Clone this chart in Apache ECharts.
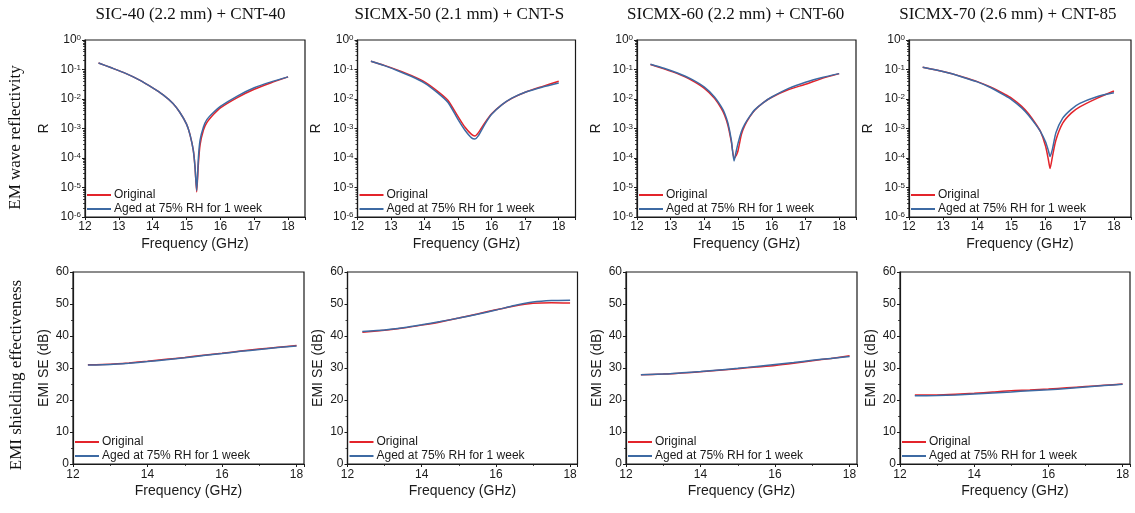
<!DOCTYPE html>
<html><head><meta charset="utf-8">
<script src="https://cdn.jsdelivr.net/npm/echarts@6/dist/echarts.min.js"></script>
<style>html,body{margin:0;padding:0;background:#fff}#c{width:1135px;height:513px}</style>
</head><body><div id="c"></div>
<script>
// ---------------- DATA ----------------
const panelTitles = ['SIC-40 (2.2 mm) + CNT-40', 'SICMX-50 (2.1 mm) + CNT-S', 'SICMX-60 (2.2 mm) + CNT-60', 'SICMX-70 (2.6 mm) + CNT-85'];
const rowLabels = ['EM wave reflectivity', 'EMI shielding effectiveness'];
const seriesNames = ['Original', 'Aged at 75% RH for 1 week'];
const xAxisName = 'Frequency (GHz)';
const yNameTop = 'R';
const yNameBottom = 'EMI SE (dB)';

// Reflectivity panels
const freqR1 = [12.4,12.8,13.2,13.6,14.0,14.3,14.6,14.8,15.0,15.1,15.2,15.25,15.3,15.35,15.4,15.5,15.6,15.8,16.0,16.5,17.0,17.5,18.0];
const rOrig1 = [0.166,0.112,0.0741,0.0447,0.0240,0.0141,0.00708,0.00355,0.00141,6.3e-4,1.8e-4,5.0e-5,7.1e-6,6.3e-5,2.8e-4,8.9e-4,1.58e-3,3.02e-3,5.01e-3,0.0112,0.0214,0.0355,0.0562];
const rAged1 = [0.166,0.112,0.0741,0.0447,0.0240,0.0141,0.00708,0.00355,0.00141,6.3e-4,1.8e-4,5.0e-5,7.9e-6,1.0e-4,4.0e-4,1.12e-3,2.0e-3,3.55e-3,5.62e-3,0.0126,0.0240,0.0380,0.0562];

const freqR2 = [12.4,12.8,13.2,13.6,14.0,14.4,14.7,15.0,15.2,15.4,15.5,15.6,15.8,16.0,16.3,16.6,17.0,17.5,18.0];
const rOrig2 = [0.191,0.138,0.0955,0.0631,0.0380,0.0178,0.00891,0.00251,0.00112,6.3e-4,5.6e-4,7.1e-4,1.58e-3,3.16e-3,6.31e-3,0.0105,0.0170,0.0263,0.0398];
const rAged2 = [0.191,0.135,0.0912,0.0589,0.0347,0.0158,0.00759,0.00200,8.9e-4,4.8e-4,4.4e-4,5.6e-4,1.41e-3,3.02e-3,6.31e-3,0.0107,0.0170,0.0251,0.0347];

const freqR3 = [12.4,12.8,13.2,13.6,14.0,14.3,14.5,14.6,14.7,14.8,14.88,14.95,15.0,15.1,15.2,15.35,15.5,15.75,16.0,16.5,17.0,17.5,18.0];
const rOrig3 = [0.148,0.105,0.0724,0.0447,0.0229,0.0105,0.00479,0.00282,0.00126,3.5e-4,1.0e-4,1.26e-4,1.8e-4,6.3e-4,1.26e-3,2.51e-3,4.27e-3,7.59e-3,0.0115,0.0209,0.0316,0.0501,0.0724];
const rAged3 = [0.151,0.110,0.0759,0.0479,0.0251,0.0117,0.00550,0.00331,0.00151,4.0e-4,7.9e-5,1.8e-4,3.2e-4,7.9e-4,1.41e-3,2.63e-3,4.37e-3,7.59e-3,0.0117,0.0229,0.0372,0.0537,0.0724];

const freqR4 = [12.4,12.8,13.2,13.6,14.0,14.4,14.8,15.0,15.3,15.5,15.7,15.85,16.0,16.08,16.13,16.2,16.3,16.5,16.75,17.0,17.5,18.0];
const rOrig4 = [0.120,0.0955,0.0741,0.0550,0.0389,0.0251,0.0145,0.0107,0.00562,0.00316,0.00151,7.9e-4,2.5e-4,8.9e-5,4.4e-5,1.12e-4,4.0e-4,1.51e-3,3.31e-3,5.37e-3,0.0105,0.0186];
const rAged4 = [0.120,0.0955,0.0741,0.0537,0.0380,0.0240,0.0132,0.00955,0.00501,0.00282,0.00141,7.9e-4,3.5e-4,1.8e-4,1.12e-4,2.0e-4,7.1e-4,2.24e-3,4.47e-3,7.08e-3,0.0120,0.0162];

// Shielding effectiveness panels
const freqSE = [12.4,13.0,13.5,14.0,14.5,15.0,15.5,16.0,16.5,17.0,17.5,18.0];
const seOrig1 = [31.0,31.2,31.6,32.1,32.7,33.3,34.0,34.6,35.3,35.9,36.5,37.0];
const seAged1 = [30.9,31.1,31.5,32.0,32.6,33.2,33.9,34.5,35.2,35.8,36.4,36.9];
const seOrig2 = [41.2,41.8,42.5,43.4,44.4,45.6,46.9,48.2,49.4,50.2,50.4,50.3];
const seAged2 = [41.4,41.9,42.6,43.5,44.5,45.6,46.8,48.1,49.5,50.6,51.1,51.2];
const seOrig3 = [27.9,28.1,28.4,28.8,29.3,29.8,30.3,30.8,31.5,32.3,33.0,33.8];
const seAged3 = [27.9,28.1,28.5,28.9,29.4,29.9,30.5,31.1,31.7,32.4,33.0,33.6];
const seOrig4 = [21.6,21.6,21.8,22.1,22.5,22.9,23.1,23.4,23.8,24.2,24.6,25.0];
const seAged4 = [21.3,21.4,21.6,21.9,22.2,22.5,22.9,23.2,23.6,24.1,24.5,24.9];

// ---------------- LAYOUT / STYLE ----------------
const RED = '#e3242b', BLUE = '#3d6aa3', INK = '#1a1a1a';
const SANS = '"Liberation Sans", Arial, sans-serif';
const SERIF = '"Liberation Serif", "Times New Roman", serif';
const topGrids = [[85,220],[357.5,218],[637,219],[909,222]];
const botGrids = [[73,231],[347.5,230],[626,231],[900,230]];
const titleX = [190.5, 459.3, 735.7, 1007.8];

const rFreqs = [freqR1, freqR2, freqR3, freqR4];
const rOrigs = [rOrig1, rOrig2, rOrig3, rOrig4];
const rAgeds = [rAged1, rAged2, rAged3, rAged4];
const seOrigs = [seOrig1, seOrig2, seOrig3, seOrig4];
const seAgeds = [seAged1, seAged2, seAged3, seAged4];

function pairs(xs, ys) { return xs.map((x, i) => [x, ys[i]]); }

const grids = [], xAxes = [], yAxes = [], series = [], legends = [], graphics = [];
const lineAxis = { show: true, onZero: false, lineStyle: { color: INK, width: 1.2 } };
const tickStyle = { color: INK, width: 1 };

function addSeries(g, xs, orig, aged) {
  series.push({ name: seriesNames[0], type: 'line', xAxisIndex: g, yAxisIndex: g, data: pairs(xs, orig),
    symbol: 'none', smooth: 0.2, lineStyle: { color: RED, width: 1.5 }, itemStyle: { color: RED }, z: 2 });
  series.push({ name: seriesNames[1], type: 'line', xAxisIndex: g, yAxisIndex: g, data: pairs(xs, aged),
    symbol: 'none', smooth: 0.2, lineStyle: { color: BLUE, width: 1.5 }, itemStyle: { color: BLUE }, z: 3 });
}
function addLegend(left, top) {
  legends.push({ left: left, top: top, orient: 'vertical', icon: 'rect', itemWidth: 24, itemHeight: 2, itemGap: 0,
    padding: 0, selectedMode: false, data: seriesNames,
    textStyle: { fontFamily: SANS, fontSize: 12, color: INK, lineHeight: 14, padding: [0, 0, 0, -2] } });
}

// top row: grid indices 0..3
for (let i = 0; i < 4; i++) {
  const g = i;
  grids.push({ left: topGrids[i][0], top: 40, width: topGrids[i][1], height: 177, show: true,
    borderColor: INK, borderWidth: 1.2, backgroundColor: 'transparent' });
  xAxes.push({ type: 'value', gridIndex: g, min: 12, max: 18.5, interval: 1,
    name: xAxisName, nameLocation: 'middle', nameGap: 20,
    nameTextStyle: { fontFamily: SANS, fontSize: 14, color: INK },
    axisLine: lineAxis, axisTick: { show: true, length: 3, lineStyle: tickStyle },
    axisLabel: { formatter: v => Number.isInteger(v) ? String(v) : '', fontSize: 12, color: INK, fontFamily: SANS, margin: 4 },
    splitLine: { show: false } });
  yAxes.push({ type: 'log', gridIndex: g, logBase: 10, min: 1e-6, max: 1, interval: 1, splitNumber: 6,
    name: yNameTop, nameLocation: 'middle', nameGap: 34,
    nameTextStyle: { fontFamily: SANS, fontSize: 14, color: INK },
    axisLine: lineAxis, axisTick: { show: true, length: 3, lineStyle: tickStyle },
    minorTick: { show: true, splitNumber: 9, length: 2, lineStyle: { color: INK, width: 0.8 } },
    axisLabel: {
      formatter: v => '{b|10}{s|' + Math.round(Math.log10(v)) + '}',
      margin: 4,
      rich: { b: { fontSize: 12, color: INK, fontFamily: SANS }, s: { fontSize: 8, color: INK, fontFamily: SANS, verticalAlign: 'top' } }
    },
    splitLine: { show: false } });
  addSeries(g, rFreqs[i], rOrigs[i], rAgeds[i]);
  addLegend(topGrids[i][0] + 2, 188);
  graphics.push({ type: 'text', x: titleX[i], y: 15,
    style: { text: panelTitles[i], font: '17px ' + SERIF, fill: '#111', textAlign: 'center', textVerticalAlign: 'middle' } });
}
// bottom row: grid indices 4..7
for (let i = 0; i < 4; i++) {
  const h = i + 4;
  grids.push({ left: botGrids[i][0], top: 272, width: botGrids[i][1], height: 192, show: true,
    borderColor: INK, borderWidth: 1.2, backgroundColor: 'transparent' });
  xAxes.push({ type: 'value', gridIndex: h, min: 12, max: 18.2, interval: 2,
    name: xAxisName, nameLocation: 'middle', nameGap: 20,
    nameTextStyle: { fontFamily: SANS, fontSize: 14, color: INK },
    axisLine: lineAxis, axisTick: { show: true, length: 3, lineStyle: tickStyle },
    minorTick: { show: true, splitNumber: 2, length: 2, lineStyle: { color: INK, width: 0.8 } },
    axisLabel: { formatter: v => Number.isInteger(v) ? String(v) : '', fontSize: 12, color: INK, fontFamily: SANS, margin: 5 },
    splitLine: { show: false } });
  yAxes.push({ type: 'value', gridIndex: h, min: 0, max: 60, interval: 10,
    name: yNameBottom, nameLocation: 'middle', nameGap: 22,
    nameTextStyle: { fontFamily: SANS, fontSize: 14, color: INK },
    axisLine: lineAxis, axisTick: { show: true, length: 3, lineStyle: tickStyle },
    minorTick: { show: true, splitNumber: 2, length: 2, lineStyle: { color: INK, width: 0.8 } },
    axisLabel: { fontSize: 12, color: INK, fontFamily: SANS, margin: 4 },
    splitLine: { show: false } });
  addSeries(h, freqSE, seOrigs[i], seAgeds[i]);
  addLegend(botGrids[i][0] + 2, 435);
}
graphics.push({ type: 'text', x: 16, y: 137.5, rotation: Math.PI / 2,
  style: { text: rowLabels[0], font: '17px ' + SERIF, fill: '#111', textAlign: 'center', textVerticalAlign: 'middle' } });
graphics.push({ type: 'text', x: 17, y: 375, rotation: Math.PI / 2,
  style: { text: rowLabels[1], font: '17px ' + SERIF, fill: '#111', textAlign: 'center', textVerticalAlign: 'middle' } });

const chart = echarts.init(document.getElementById('c'), null, { renderer: 'canvas' });
chart.setOption({
  backgroundColor: '#ffffff',
  animation: false,
  grid: grids, xAxis: xAxes, yAxis: yAxes, series: series, legend: legends, graphic: graphics
});
</script></body></html>
